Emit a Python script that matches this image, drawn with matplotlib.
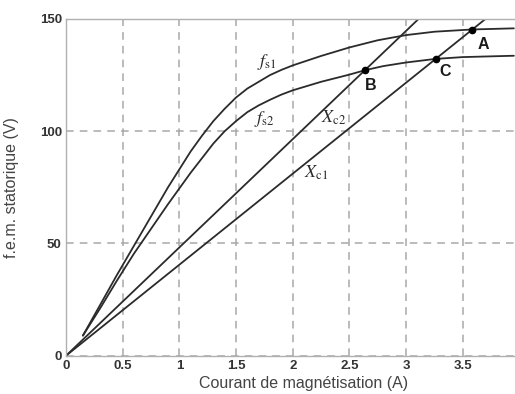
import matplotlib.pyplot as plt

# courbes à vide f.e.m. = f(courant de magnétisation)
i_fs1 = [0.15, 0.3, 0.45, 0.6, 0.75, 0.9, 1.0, 1.1, 1.2, 1.3, 1.4, 1.5, 1.6, 1.7, 1.8, 1.9, 2.0,
         2.25, 2.5, 2.75, 3.0, 3.25, 3.58, 3.95]
v_fs1 = [9, 22.5, 36, 49, 62, 75, 83, 91, 98, 104.5, 110, 115, 119, 122, 125, 127.3, 129.3,
         133.5, 137.3, 140.5, 142.8, 144.3, 145.3, 145.8]

i_fs2 = [0.15, 0.3, 0.45, 0.6, 0.75, 0.9, 1.0, 1.1, 1.2, 1.3, 1.4, 1.5, 1.6, 1.7, 1.8, 1.9, 2.0,
         2.25, 2.5, 2.64, 2.8, 3.0, 3.26, 3.5, 3.95]
v_fs2 = [9, 21, 33.5, 45.5, 56.5, 67.5, 74.5, 81.5, 88, 94.5, 100, 104.5, 108.5, 111.5, 114, 116.3, 118.2,
         122, 125.2, 127.2, 129, 130.6, 132.2, 133, 133.6]

# droites des condensateurs
i_xc1 = [0, 3.70]
v_xc1 = [0, 150]
i_xc2 = [0, 3.11]
v_xc2 = [0, 150]

# points de fonctionnement
pts_nom = ['A', 'B', 'C']
pts_i = [3.58, 2.64, 3.26]
pts_v = [145.1, 127.3, 132.2]

plt.rcParams['font.family'] = ['Liberation Sans', 'DejaVu Sans']
plt.rcParams['mathtext.fontset'] = 'stix'

fig = plt.figure(figsize=(5.15, 3.94), dpi=100)
ax = fig.add_axes([0.128, 0.097, 0.872, 0.855])

trait = '#2b2b2b'
for xs, ys in [(i_fs1, v_fs1), (i_fs2, v_fs2), (i_xc1, v_xc1), (i_xc2, v_xc2)]:
    ax.plot(xs, ys, color=trait, lw=1.3, solid_joinstyle='round', solid_capstyle='round')
ax.plot(pts_i, pts_v, 'o', color='black', ms=4.5)

# noms des courbes
ax.text(1.77, 131, r'$f_{\rm s1}$', fontsize=13, ha='center', va='center', color=trait)
ax.text(1.75, 105.5, r'$f_{\rm s2}$', fontsize=13, ha='center', va='center', color=trait)
ax.text(2.36, 106, r'$X_{\rm c2}$', fontsize=13, ha='center', va='center', color=trait)
ax.text(2.21, 81.5, r'$X_{\rm c1}$', fontsize=13, ha='center', va='center', color=trait)

decal = {'A': (0.10, -6.5), 'B': (0.05, -6.8), 'C': (0.08, -5.5)}
for nom, xi, yi in zip(pts_nom, pts_i, pts_v):
    dx, dy = decal[nom]
    ax.text(xi + dx, yi + dy, nom, fontsize=11.5, fontweight='bold',
            ha='center', va='center', color='#1a1a1a')

ax.set_xlim(0, 3.96)
ax.set_ylim(0, 150)
ax.set_xticks([0, 0.5, 1, 1.5, 2, 2.5, 3, 3.5])
ax.set_xticklabels(['0', '0.5', '1', '1.5', '2', '2.5', '3', '3.5'])
ax.set_yticks([0, 50, 100, 150])

ax.grid(True, color='#a8a8a8', linestyle=(0, (5, 4)), lw=1.1)
ax.set_axisbelow(True)
ax.tick_params(length=0, pad=3, labelsize=9.5, labelcolor='#333333')
for lab in ax.get_xticklabels() + ax.get_yticklabels():
    lab.set_fontweight('bold')

for cote in ['top', 'left', 'bottom']:
    ax.spines[cote].set_color('#b0b0b0')
    ax.spines[cote].set_linewidth(1.0)
ax.spines['right'].set_visible(False)

ax.set_xlabel('Courant de magnétisation (A)', fontsize=11.5, color='#444444')
ax.set_ylabel('f.e.m. statorique (V)', fontsize=11.5, color='#444444')
ax.xaxis.set_label_coords(0.53, -0.06)
ax.yaxis.set_label_coords(-0.105, 0.5)

fig.savefig('out.png', dpi=100)
